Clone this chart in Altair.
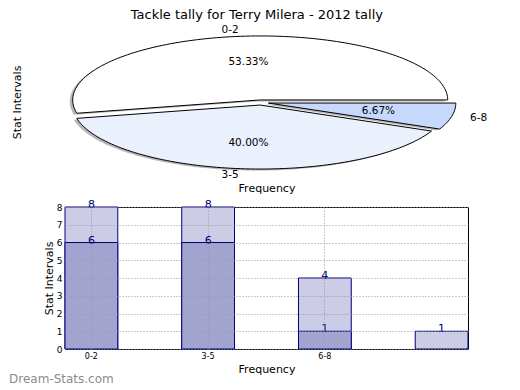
import math
import altair as alt
import pandas as pd

# ---------------- data ----------------
title_text = "Tackle tally for Terry Milera - 2012 tally"
pie_labels = ["0-2", "3-5", "6-8"]
pie_counts = [8, 6, 1]
pie_fills = ["#ffffff", "#eaf1fd", "#c6d9fd"]

bar_cats = ["0-2", "3-5", "6-8", "9-11"]
light_values = [8, 8, 4, 1]
dark_values = [6, 6, 1]

# ---------------- pie geometry (matplotlib style, exploded) ----------------
EXPLODE = 0.04
total = float(sum(pie_counts))
rows, lab_rows = [], []
start = 0.0
for lab, cnt, col in zip(pie_labels, pie_counts, pie_fills):
    frac = cnt / total
    t1, t2 = start * 2 * math.pi, (start + frac) * 2 * math.pi
    mid = (t1 + t2) / 2
    ex, ey = EXPLODE * math.cos(mid), EXPLODE * math.sin(mid)
    n = max(4, int(frac * 240))
    pts = [(ex, ey)]
    for k in range(n + 1):
        a = t1 + (t2 - t1) * k / n
        pts.append((ex + math.cos(a), ey + math.sin(a)))
    pts.append((ex, ey))
    for i, (px, py) in enumerate(pts):
        rows.append({"slice": lab, "i": i, "x": px, "y": py, "fillc": col})
    lab_rows.append({
        "label": lab,
        "pct": f"{frac * 100:.2f}%",
        "lx": ex + 1.1 * math.cos(mid), "ly": ey + 1.1 * math.sin(mid),
        "px": ex + 0.6 * math.cos(mid), "py": ey + 0.6 * math.sin(mid),
        "side": "left" if math.cos(mid) >= 0 else "right",
    })
    start += frac

pie_df = pd.DataFrame(rows)
lab_df = pd.DataFrame(lab_rows)

PW = 403
PH = 146
xs = alt.Scale(domain=[-196 / 187.5, 207 / 187.5], nice=False, zero=False)
ys = alt.Scale(domain=[73.5 / 64 - PH / 64, 73.5 / 64], nice=False, zero=False)
xax = alt.Axis(title="Frequency", labels=False, ticks=False, domain=False, grid=False,
               titleFontSize=11, titleFontWeight="normal", titlePadding=7)
yax = alt.Axis(title="Stat Intervals", labels=False, ticks=False, domain=False, grid=False,
               titleFontSize=11, titleFontWeight="normal", titlePadding=43)

base_pie = alt.Chart(pie_df)
shadow = base_pie.mark_line(fill="#7a7a7a", fillOpacity=0.55, strokeWidth=0,
                            xOffset=-3, yOffset=1.5).encode(
    x=alt.X("x:Q", scale=xs, axis=xax),
    y=alt.Y("y:Q", scale=ys, axis=yax),
    detail="slice:N",
    order="i:Q",
)
slices = base_pie.mark_line(stroke="black", strokeWidth=1).encode(
    x=alt.X("x:Q", scale=xs, axis=xax),
    y=alt.Y("y:Q", scale=ys, axis=yax),
    fill=alt.Fill("fillc:N", scale=None),
    detail="slice:N",
    order="i:Q",
)
base_lab = alt.Chart(lab_df)
pct_text = base_lab.mark_text(fontSize=10.5, color="black").encode(
    x=alt.X("px:Q", scale=xs, axis=xax), y=alt.Y("py:Q", scale=ys, axis=yax), text="pct:N")
lab_left = base_lab.transform_filter("datum.side == 'left'").mark_text(
    fontSize=10.5, align="left", color="black").encode(
    x=alt.X("lx:Q", scale=xs, axis=xax), y=alt.Y("ly:Q", scale=ys, axis=yax), text="label:N")
lab_right = base_lab.transform_filter("datum.side == 'right'").mark_text(
    fontSize=10.5, align="right", color="black").encode(
    x=alt.X("lx:Q", scale=xs, axis=xax), y=alt.Y("ly:Q", scale=ys, axis=yax), text="label:N")

pie = alt.layer(shadow, slices, pct_text, lab_left, lab_right).properties(
    width=PW, height=PH, view=alt.ViewBackground(strokeWidth=0))

# ---------------- bar chart ----------------
light_df = pd.DataFrame({"cat": bar_cats, "v": light_values})
dark_df = pd.DataFrame({"cat": bar_cats[:len(dark_values)], "v": dark_values})

bx = alt.X("cat:N", sort=bar_cats,
           scale=alt.Scale(domain=bar_cats, paddingInner=0.548, paddingOuter=0),
           axis=alt.Axis(title="Frequency", values=bar_cats[:3], labelAngle=0, labelFontSize=8,
                         labelPadding=3, ticks=False, domain=False, grid=True, bandPosition=0.5,
                         gridColor="#999999", gridDash=[1, 2], titleFontSize=11,
                         titleFontWeight="normal", titlePadding=3, zindex=1))
by = alt.Y("v:Q", scale=alt.Scale(domain=[0, 8], nice=False),
           axis=alt.Axis(title="Stat Intervals", values=list(range(9)), labelFontSize=9,
                         labelPadding=3, ticks=False, domain=False, grid=True,
                         gridColor="#999999", gridDash=[1, 2], titleFontSize=11,
                         titleFontWeight="normal", titlePadding=2, zindex=1))

light = alt.Chart(light_df).mark_bar(color="#ccccE6", stroke="#000080", strokeWidth=1).encode(x=bx, y=by)
dark = alt.Chart(dark_df).mark_bar(color="#a3a3d0", stroke="#000080", strokeWidth=1).encode(x=bx, y=by)
light_t = alt.Chart(light_df).mark_text(fontSize=11, color="#000080", baseline="alphabetic", dy=1).encode(
    x=bx, y=by, text="v:Q")
dark_t = alt.Chart(dark_df).mark_text(fontSize=11, color="#000080", baseline="alphabetic", dy=1).encode(
    x=bx, y=by, text="v:Q")
water = alt.Chart(pd.DataFrame({"t": ["Dream-Stats.com"]})).mark_text(
    align="left", baseline="middle", fontSize=12, color="#8c8c8c").encode(
    x=alt.value(-56), y=alt.value(172), text="t:N")

bars = alt.layer(light, dark, light_t, dark_t, water).properties(width=PW, height=142)

chart = alt.vconcat(pie, bars, spacing=5).properties(
    padding=0,
    title=alt.TitleParams(title_text, fontSize=13, fontWeight="normal", anchor="middle",
                          offset=3, dx=9),
).configure(font="DejaVu Sans").configure_view(stroke="black", strokeWidth=1)

chart.save("out.html", embed_options={"renderer": "svg", "actions": False})
